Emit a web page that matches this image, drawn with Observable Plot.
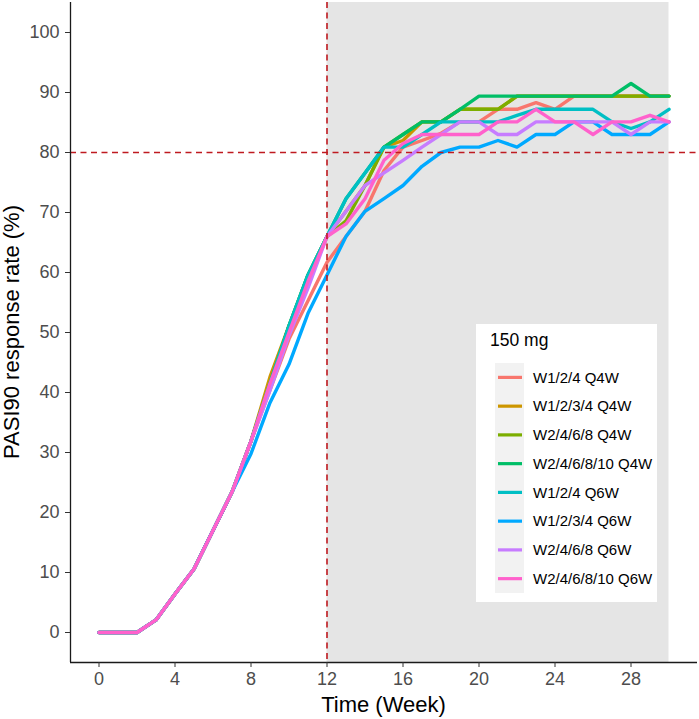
<!DOCTYPE html>
<html>
<head>
<meta charset="utf-8">
<script src="https://cdn.jsdelivr.net/npm/d3@7"></script>
<script src="https://cdn.jsdelivr.net/npm/@observablehq/plot@0.6"></script>
<style>
  html, body { margin: 0; padding: 0; background: white; }
  #chart { position: relative; width: 699px; height: 719px; }
</style>
</head>
<body>
<div id="chart"></div>
<script>
const FONT = "'Liberation Sans', Arial, Helvetica, sans-serif";

// ---- data ----
const weeks = [0,1,2,3,4,5,6,7,8,9,10,11,12,13,14,15,16,17,18,19,20,21,22,23,24,25,26,27,28,29,30];

const groups = [
  "W1/2/4 Q4W", "W1/2/3/4 Q4W", "W2/4/6/8 Q4W", "W2/4/6/8/10 Q4W",
  "W1/2/4 Q6W", "W1/2/3/4 Q6W", "W2/4/6/8 Q6W", "W2/4/6/8/10 Q6W"
];
const colors = ["#F8766D", "#CD9600", "#7CAE00", "#00BE67", "#00BFC4", "#00A9FF", "#C77CFF", "#FF61CC"];

// PASI90 response rate (%) by week, one array per regimen
const w124q4w    = [0,0,0,2.1,6.4,10.6,17.0,23.4,31.9,40.4,48.9,55.3,61.7,66.0,70.2,77.0,80.9,82.0,83.2,85.1,85.1,87.2,87.2,88.3,87.2,89.4,89.4,89.4,89.4,89.4,89.4];
const w1234q4w   = [0,0,0,2.1,6.4,10.6,17.0,23.4,31.9,42.6,51.1,58.5,66.0,70.2,74.5,80.9,82.0,85.1,85.1,87.2,87.2,87.2,89.4,89.4,89.4,89.4,89.4,89.4,89.4,89.4,89.4];
const w2468q4w   = [0,0,0,2.1,6.4,10.6,17.0,23.4,31.9,41.5,51.1,59.6,66.0,68.6,74.5,80.9,83.0,85.1,85.1,87.2,87.2,87.2,89.4,89.4,89.4,89.4,89.4,89.4,89.4,89.4,89.4];
const w246810q4w = [0,0,0,2.1,6.4,10.6,17.0,23.4,31.9,41.5,51.1,59.6,66.0,72.3,76.6,80.9,83.0,85.1,85.1,87.2,89.4,89.4,89.4,89.4,89.4,89.4,89.4,89.4,91.5,89.4,89.4];
const w124q6w    = [0,0,0,2.1,6.4,10.6,17.0,23.4,31.9,41.5,51.1,59.6,66.0,72.3,76.6,80.9,80.9,83.0,85.1,85.1,85.1,85.1,86.2,87.2,87.2,87.2,87.2,85.1,84.0,85.1,87.2];
const w1234q6w   = [0,0,0,2.1,6.4,10.6,17.0,23.4,29.8,38.3,44.7,53.2,59.6,66.0,70.2,72.3,74.5,77.7,80.0,80.9,80.9,82.0,80.9,83.0,83.0,85.1,85.1,83.0,83.0,83.0,85.1];
const w2468q6w   = [0,0,0,2.1,6.4,10.6,17.0,23.4,31.9,40.4,49.5,57.4,66.0,70.2,74.5,76.6,78.7,80.9,83.0,85.1,85.1,83.0,83.0,85.1,85.1,85.1,85.1,85.1,83.0,85.1,85.1];
const w246810q6w = [0,0,0,2.1,6.4,10.6,17.0,23.4,31.9,41.5,50.0,58.5,66.0,68.1,72.3,78.7,81.5,83.0,83.0,83.0,83.0,85.1,85.1,87.2,85.1,85.1,83.0,85.1,85.1,86.2,85.1];

const seriesValues = [w124q4w, w1234q4w, w2468q4w, w246810q4w, w124q6w, w1234q6w, w2468q6w, w246810q6w];

const xTicks = [0, 4, 8, 12, 16, 20, 24, 28];
const yTicks = [0, 10, 20, 30, 40, 50, 60, 70, 80, 90, 100];
const xDomain = [-1.5, 31.5];
const yDomain = [-5, 105];
const shade = [{start: 12, end: 30}];
const refWeek = [12];
const refRate = [80];
const legendTitle = "150 mg";
const xTitle = "Time (Week)";
const yTitle = "PASI90 response rate (%)";

// long table built from the arrays
const rows = [];
groups.forEach((g, i) => {
  weeks.forEach((w, j) => rows.push({group: g, week: w, rate: seriesValues[i][j]}));
});

const RED = "#BF1A20";
const AXIS = "#1a1a1a";

const svg = Plot.plot({
  width: 699,
  height: 719,
  marginLeft: 70,
  marginRight: 2,
  marginTop: 2,
  marginBottom: 57,
  x: {domain: xDomain},
  y: {domain: yDomain},
  color: {domain: groups, range: colors},
  style: {fontFamily: FONT, background: "white", overflow: "visible"},
  marks: [
    Plot.rect(shade, {x1: "start", x2: "end", fill: "#E5E5E5"}),
    Plot.line(rows, {x: "week", y: "rate", z: "group", stroke: "group", strokeWidth: 3.4, strokeLinejoin: "round"}),
    Plot.ruleX(refWeek, {stroke: RED, strokeWidth: 1.6, strokeDasharray: "6,4.5"}),
    Plot.ruleY(refRate, {stroke: RED, strokeWidth: 1.6, strokeDasharray: "6,4.5"}),
    Plot.ruleX([xDomain[0]], {stroke: AXIS, strokeWidth: 1.3}),
    Plot.ruleY([yDomain[0]], {stroke: AXIS, strokeWidth: 1.3}),
    Plot.axisX({ticks: xTicks, tickSize: 5, tickPadding: 4.5, fontSize: 18, label: null, stroke: "#333"}),
    Plot.axisY({ticks: yTicks, tickSize: 5, tickPadding: 6, fontSize: 18, label: null, stroke: "#333"})
  ]
});

const s = d3.select(svg);
s.selectAll('g[aria-label="x-axis tick label"], g[aria-label="y-axis tick label"]')
  .attr("fill", "#4D4D4D").attr("font-size", 18);

// axis titles
s.append("text")
  .attr("x", 383.5).attr("y", 712)
  .attr("text-anchor", "middle")
  .attr("font-size", 22).attr("fill", "#000")
  .text(xTitle);
s.append("text")
  .attr("transform", "translate(19,332) rotate(-90)")
  .attr("text-anchor", "middle")
  .attr("font-size", 22).attr("fill", "#000")
  .text(yTitle);

// legend (inside the panel)
const lg = s.append("g").attr("font-family", FONT).attr("text-anchor", "start");
lg.append("rect").attr("x", 476).attr("y", 324).attr("width", 181).attr("height", 278).attr("fill", "white");
lg.append("text").attr("x", 490).attr("y", 346).attr("font-size", 17.5).attr("fill", "#000")
  .attr("text-anchor", "start").text(legendTitle);
lg.append("rect").attr("x", 495).attr("y", 363).attr("width", 29).attr("height", 230).attr("fill", "#F2F2F2");
groups.forEach((g, i) => {
  const cy = 377.4 + 28.75 * i;
  lg.append("line").attr("x1", 498).attr("x2", 522).attr("y1", cy).attr("y2", cy)
    .attr("stroke", colors[i]).attr("stroke-width", 3.2);
  lg.append("text").attr("x", 533).attr("y", cy).attr("dy", "0.35em")
    .attr("text-anchor", "start")
    .attr("font-size", 15).attr("fill", "#000").text(g);
});

document.getElementById("chart").appendChild(svg);
</script>
</body>
</html>
